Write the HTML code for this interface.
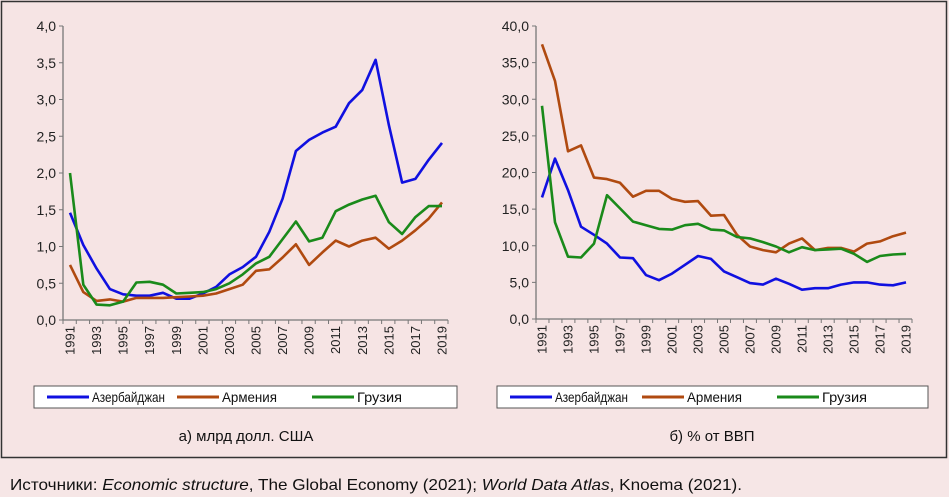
<!DOCTYPE html>
<html><head><meta charset="utf-8"><style>
body{margin:0;background:#f6e6e6}
svg{display:block;font-family:"Liberation Sans",sans-serif}
</style></head><body>
<svg id="svg" width="949" height="497" viewBox="0 0 949 497" xmlns="http://www.w3.org/2000/svg">
<rect x="0" y="0" width="949" height="497" fill="#f6e6e6"/>
<rect x="1.5" y="1.5" width="945" height="456" fill="#f6e4e4" stroke="#333" stroke-width="1.5"/>
<g id="left"></g>
<g id="right"></g>
<text x="246" y="441" font-size="15" text-anchor="middle" fill="#111">а) млрд долл. США</text>
<text x="712" y="441" font-size="15" text-anchor="middle" fill="#111">б) % от ВВП</text>
<text x="10" y="490" font-size="16" fill="#111" textLength="732" lengthAdjust="spacingAndGlyphs">Источники: <tspan font-style="italic">Economic structure</tspan>, The Global Economy (2021); <tspan font-style="italic">World Data Atlas</tspan>, Knoema (2021).</text>
</svg>
<script>
const years = [1991,1992,1993,1994,1995,1996,1997,1998,1999,2000,2001,2002,2003,2004,2005,2006,2007,2008,2009,2010,2011,2012,2013,2014,2015,2016,2017,2018,2019];
const seriesNames = ["Азербайджан","Армения","Грузия"];
const seriesColors = ["#1010e0","#b04a10","#1a8a1a"];
const usdAzerbaijan = [1.46,1.02,0.7,0.42,0.35,0.33,0.33,0.37,0.29,0.29,0.36,0.45,0.62,0.72,0.86,1.2,1.65,2.3,2.45,2.55,2.63,2.95,3.13,3.54,2.65,1.87,1.92,2.18,2.41];
const usdArmenia = [0.75,0.38,0.26,0.28,0.25,0.3,0.3,0.3,0.31,0.32,0.33,0.36,0.42,0.48,0.67,0.69,0.85,1.03,0.75,0.92,1.08,1.0,1.08,1.12,0.97,1.08,1.22,1.38,1.6];
const usdGeorgia = [2.0,0.48,0.21,0.2,0.25,0.51,0.52,0.48,0.36,0.37,0.38,0.42,0.5,0.62,0.77,0.86,1.1,1.34,1.07,1.12,1.48,1.57,1.64,1.69,1.33,1.17,1.4,1.55,1.55];
const gdpAzerbaijan = [16.6,21.9,17.6,12.6,11.5,10.3,8.4,8.3,6.0,5.3,6.2,7.4,8.6,8.2,6.5,5.7,4.9,4.7,5.5,4.8,4.0,4.2,4.2,4.7,5.0,5.0,4.7,4.6,5.0];
const gdpArmenia = [37.5,32.5,22.9,23.7,19.3,19.1,18.6,16.7,17.5,17.5,16.4,16.0,16.1,14.1,14.2,11.5,9.9,9.4,9.1,10.3,11.0,9.4,9.7,9.7,9.2,10.3,10.6,11.3,11.8];
const gdpGeorgia = [29.1,13.2,8.5,8.4,10.3,16.9,15.1,13.3,12.8,12.3,12.2,12.8,13.0,12.2,12.1,11.2,11.0,10.5,9.9,9.1,9.8,9.4,9.5,9.6,8.9,7.8,8.6,8.8,8.9];
const usdTicks = ["0,0","0,5","1,0","1,5","2,0","2,5","3,0","3,5","4,0"];
const gdpTicks = ["0,0","5,0","10,0","15,0","20,0","25,0","30,0","35,0","40,0"];

const NS="http://www.w3.org/2000/svg";
function mk(parent,tag,attrs){const e=document.createElementNS(NS,tag);for(const k in attrs)e.setAttribute(k,attrs[k]);parent.appendChild(e);return e;}
const legendLens=[73,55,45];

function drawChart(g,cfg){
  const {ax,axEnd,x0,x1,yTop,yBot,ymax,ticks,series,legX,legW,prefix,offs}=cfg;
  const xs=i=>x0+(x1-x0)*i/(years.length-1);
  const ys=v=>yBot-(yBot-yTop)*v/ymax;
  const axis=mk(g,'path',{d:`M${ax} ${yTop} V${yBot} H${axEnd}`,stroke:'#777',fill:'none','stroke-width':1.3});
  
  
  ticks.forEach((t,i)=>{
    const v=ymax*i/(ticks.length-1), y=ys(v);
    mk(g,'line',{x1:ax-4,x2:ax,y1:y,y2:y,stroke:'#777'});
    const tx=mk(g,'text',{x:ax-7,y:y+5,'font-size':14,'text-anchor':'end',fill:'#222'});
    tx.textContent=t;
    
    
  });
  for(let i=0;i<=years.length;i++){
    const x=ax+(axEnd-ax)*i/years.length;
    mk(g,'line',{x1:x,x2:x,y1:yBot,y2:yBot+4,stroke:'#777'});
  }
  years.forEach((yr,i)=>{
    if(i%2) return;
    const x=xs(i);
    const tx=mk(g,'text',{x:0,y:0,'font-size':13,'text-anchor':'end',fill:'#222',transform:`translate(${x+4.5},${yBot+6}) rotate(-90)`});
    tx.textContent=yr;
    
    
  });
  series.forEach((s,k)=>{
    const d=s.map((v,i)=>(i?'L':'M')+xs(i).toFixed(1)+' '+ys(v).toFixed(1)).join(' ');
    const p=mk(g,'path',{d,stroke:seriesColors[k],fill:'none','stroke-width':2.6,'stroke-linejoin':'round'});
    
    
  });
  const leg=mk(g,'g',{});
  
  
  mk(leg,'rect',{x:legX,y:386,width:legW,height:22,fill:'#fff',stroke:'#555'});
  seriesNames.forEach((n,k)=>{
    const lx=legX+offs[k];
    mk(leg,'line',{x1:lx,x2:lx+42,y1:397,y2:397,stroke:seriesColors[k],'stroke-width':3});
    const t=mk(leg,'text',{x:lx+45,y:402,'font-size':14,fill:'#111',textLength:legendLens[k],lengthAdjust:'spacingAndGlyphs'});
    t.textContent=n;
    
    
  });
}
drawChart(document.getElementById('left'),{ax:63,axEnd:448,x0:70,x1:442,yTop:26,yBot:320,ymax:4,ticks:usdTicks,series:[usdAzerbaijan,usdArmenia,usdGeorgia],legX:34,legW:423,prefix:'left',offs:[13,143,278]});
drawChart(document.getElementById('right'),{ax:536,axEnd:912,x0:542,x1:906,yTop:26,yBot:319,ymax:40,ticks:gdpTicks,series:[gdpAzerbaijan,gdpArmenia,gdpGeorgia],legX:497,legW:431,prefix:'right',offs:[13,145,280]});
</script>
</body></html>
